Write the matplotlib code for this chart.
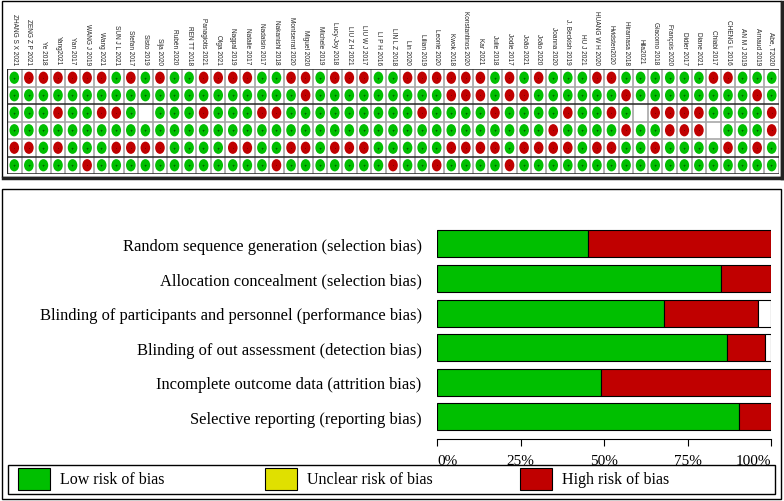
import matplotlib
matplotlib.use("Agg")
import matplotlib.pyplot as plt
from matplotlib.patches import Rectangle, Ellipse

# ---- datos ----
studies = ["ZHANG S X 2021", "ZENG Z P 2021", "Ye 2018", "Yang2021", "Yan 2017",
           "WANG J 2019", "Wang 2021", "SUN J L 2021", "Stefan 2017", "Sisto 2019",
           "Sija 2020", "Rubén 2020", "REN TT 2018", "Panagiotis 2021", "Olga 2021",
           "Nagpal 2019", "Natalie 2017", "Nadalsin 2017", "Nakanishi 2018",
           "Montserrat 2020", "Miguel 2020", "Michele 2019", "Lucy-Joy 2018",
           "LIU Z H 2021", "LIU W J 2017", "LI P H 2016", "LIN L Z 2018", "Lin 2020",
           "Lilian 2019", "Leonie 2020", "Kwok 2018", "Konstantinos 2020", "Kar 2021",
           "Julie 2018", "Jodie 2017", "João 2021", "João 2020", "Joanna 2020",
           "J. Beckish 2019", "HU J 2021", "HUANG W H 2020", "Hvidsten2020",
           "Hiramasa 2018", "Hila2021", "Giacomo 2018", "François 2020", "Didier 2017",
           "Diane 2021", "Chiabi 2017", "CHENG L 2016", "AN M J 2019", "Arnaud 2019",
           "Abe, T2020"]

domains = ["Random sequence generation (selection bias)",
           "Allocation concealment (selection bias)",
           "Blinding of participants and personnel (performance bias)",
           "Blinding of out assessment (detection bias)",
           "Incomplete outcome data (attrition bias)",
           "Selective reporting (reporting bias)"]

# '+' bajo riesgo, '-' alto riesgo, '?' no claro (celda vacía)
random_seq = "+------+-+-++" + "----++--+---+" + "+------+-+-++" + "+--++++++--+++"
allocation = "+++++++++++++" + "+++++++-+++++" + "++++---+--+++" + "+++-++++++++-+"
blind_part = "+++-++--+?+++" + "-+++--+++++++" + "++-++++-++++-" + "++-+?----++++-"
blind_out = "+++++++++++++" + "+++++++++++++" + "+++++++++++-+" + "+++-++---?+++-"
incomplete = "--+-+++----++" + "++--++--+---+" + "++++----+----" + "+--++-++++-+-+"
selective = "+++++-+++++++" + "+++++-+++++++" + "-++-++++-++++" + "++++++++++++++"
judgements = [random_seq, allocation, blind_part, blind_out, incomplete, selective]

pct_ticks = [0, 25, 50, 75, 100]
legend_labels = ["Low risk of bias", "Unclear risk of bias", "High risk of bias"]

GREEN = "#00bf00"
RED = "#c00000"
YELLOW = "#e0e000"
W, H = 784, 502

fig = plt.figure(figsize=(W / 100, H / 100), dpi=100)


def caja(x0, y0, x1, y1):
    """rectángulo en píxeles (origen arriba-izquierda) -> fracción de figura"""
    return [x0 / W, 1 - y1 / H, (x1 - x0) / W, (y1 - y0) / H]


def marco(x0, y0, x1, y1, lw=1.0, color="black"):
    l, b, w, h = caja(x0, y0, x1, y1)
    fig.add_artist(Rectangle((l, b), w, h, transform=fig.transFigure,
                             fill=False, lw=lw, ec=color))


# ---- panel superior: resumen por estudio ----
marco(2, 2, 781, 178, lw=1.0)
fig.add_artist(plt.Line2D([3 / W, 782 / W], [1 - 179 / H] * 2, lw=2.5, color="#222222"))
fig.add_artist(plt.Line2D([782 / W] * 2, [1 - 3 / H, 1 - 179 / H], lw=2.5, color="#222222"))

ax = fig.add_axes(caja(7, 70, 779, 175))
n = len(studies)
ax.set_xlim(0, n)
ax.set_ylim(6, 0)
ax.axis("off")
for i in range(n + 1):
    ax.plot([i, i], [0, 6], color="#a8a8a8", lw=1.2)
for j in range(7):
    c = "#333333" if j in (0, 2, 5, 6) else "#a8a8a8"
    ax.plot([0, n], [j, j], color=c, lw=1.2)
ax.plot([0, 0], [0, 6], color="#222222", lw=1.6)

for j, fila in enumerate(judgements):
    for i, v in enumerate(fila):
        if v == "?":
            continue
        col = GREEN if v == "+" else RED
        ax.add_patch(Ellipse((i + 0.5, j + 0.5), 0.66, 0.7, color=col, lw=0))
        ax.text(i + 0.5, j + 0.5, "+" if v == "+" else "'", ha="center", va="center",
                fontsize=2.8, color="black")

for i, s in enumerate(studies):
    ax.text(i + 0.5, -0.3, s, rotation=270, ha="center", va="bottom",
            fontsize=4.7, family="Liberation Sans", color="#222222", clip_on=False)

# ---- panel inferior: gráfico de barras ----
marco(2, 190, 781, 500, lw=1.0)

bx = fig.add_axes(caja(437, 228, 771, 440))
serif = "Liberation Serif"
for j, fila in enumerate(judgements):
    low = 100 * fila.count("+") / n
    high = 100 * fila.count("-") / n
    unc = 100 * fila.count("?") / n
    bx.barh(j, low, height=0.78, color=GREEN, ec="black", lw=0.8)
    bx.barh(j, high, left=low, height=0.78, color=RED, ec="black", lw=0.8)
    if unc > 0:
        bx.barh(j, unc, left=low + high, height=0.78, color="white", ec="black", lw=0.8)
bx.set_xlim(0, 100)
bx.set_ylim(5.636, -0.491)
bx.set_yticks(range(len(domains)))
bx.set_yticklabels(domains, family=serif, fontsize=11.9)
bx.tick_params(axis="y", length=0, pad=11)
bx.set_xticks(pct_ticks)
etiquetas = bx.set_xticklabels([f"{p}%" for p in pct_ticks], family=serif, fontsize=11)
etiquetas[0].set_ha("left")
etiquetas[-1].set_ha("right")
bx.tick_params(axis="x", length=5, pad=6)
for s in ("top", "right", "left"):
    bx.spines[s].set_visible(False)

# ---- leyenda ----
marco(8, 466, 775, 495, lw=1.0)
ley = [(18, GREEN), (265, YELLOW), (520, RED)]
for (x0, col), lab in zip(ley, legend_labels):
    l, b, w, h = caja(x0, 469, x0 + 32, 491)
    fig.add_artist(Rectangle((l, b), w, h, transform=fig.transFigure,
                             fc=col, ec="black", lw=0.8))
    fig.text((x0 + 42) / W, 1 - 480 / H, lab, family=serif, fontsize=11.5, va="center")

fig.savefig("out.png", dpi=100)
plt.close(fig)
